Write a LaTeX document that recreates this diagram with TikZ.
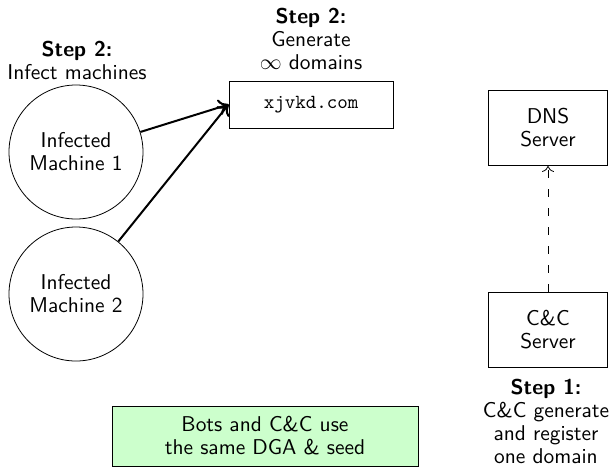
\documentclass[tikz,border=0pt]{standalone}
\usetikzlibrary{arrows.meta}
\renewcommand{\familydefault}{\sfdefault}
\newcommand{\labelfont}{\fontsize{10.7}{11.5}\selectfont}
\begin{document}
\begin{tikzpicture}[x=0.5pt,y=-0.5pt,
  every node/.style={font=\labelfont},
  machine/.style={draw,circle,minimum size=67pt,inner sep=0pt,align=center},
  srvbox/.style={draw,rectangle,minimum width=59.5pt,minimum height=37.5pt,inner sep=0pt,align=center},
  domainbox/.style={draw,rectangle,minimum width=82pt,minimum height=23.5pt,inner sep=0pt,font=\fontsize{10}{12}\selectfont\ttfamily},
  notebox/.style={draw,rectangle,fill=green!20,minimum width=153pt,minimum height=30pt,inner sep=0pt,align=center},
  steplabel/.style={align=center,inner sep=0pt},
  infect/.style={-{To[length=5pt,width=8pt]},line width=1pt},
  dnsreq/.style={-{To[length=3pt,width=6pt]},dash pattern=on 4pt off 5.5pt}]
\useasboundingbox (0,0) rectangle (613,467);

% infected hosts
\node[machine] (m1) at (76,152) {Infected\\Machine 1};
\node[machine] (m2) at (76,294) {Infected\\Machine 2};
\node[steplabel] (s2a) at (77,60) {\textbf{Step 2:}\\Infect machines};

% generated domain
\node[domainbox] (dom) at (311,104.5) {xjvkd.com};
\node[steplabel] (s2b) at (311,39) {\textbf{Step 2:}\\Generate\\$\infty$ domains};

% servers
\node[srvbox] (dns) at (548,128) {DNS\\Server};
\node[srvbox] (cc) at (548,329.5) {C\&C\\Server};
\node[steplabel] (s1) at (546,421.5) {\textbf{Step 1:}\\C\&C generate\\and register\\one domain};

% shared algorithm note
\node[notebox] (note) at (265,436) {Bots and C\&C use\\the same DGA \& seed};

% connectors
\draw[infect] (m1) -- (dom.west);
\draw[infect] (m2) -- (dom.west);
\draw[dnsreq] (cc.north) -- (dns.south);
\end{tikzpicture}
\end{document}
